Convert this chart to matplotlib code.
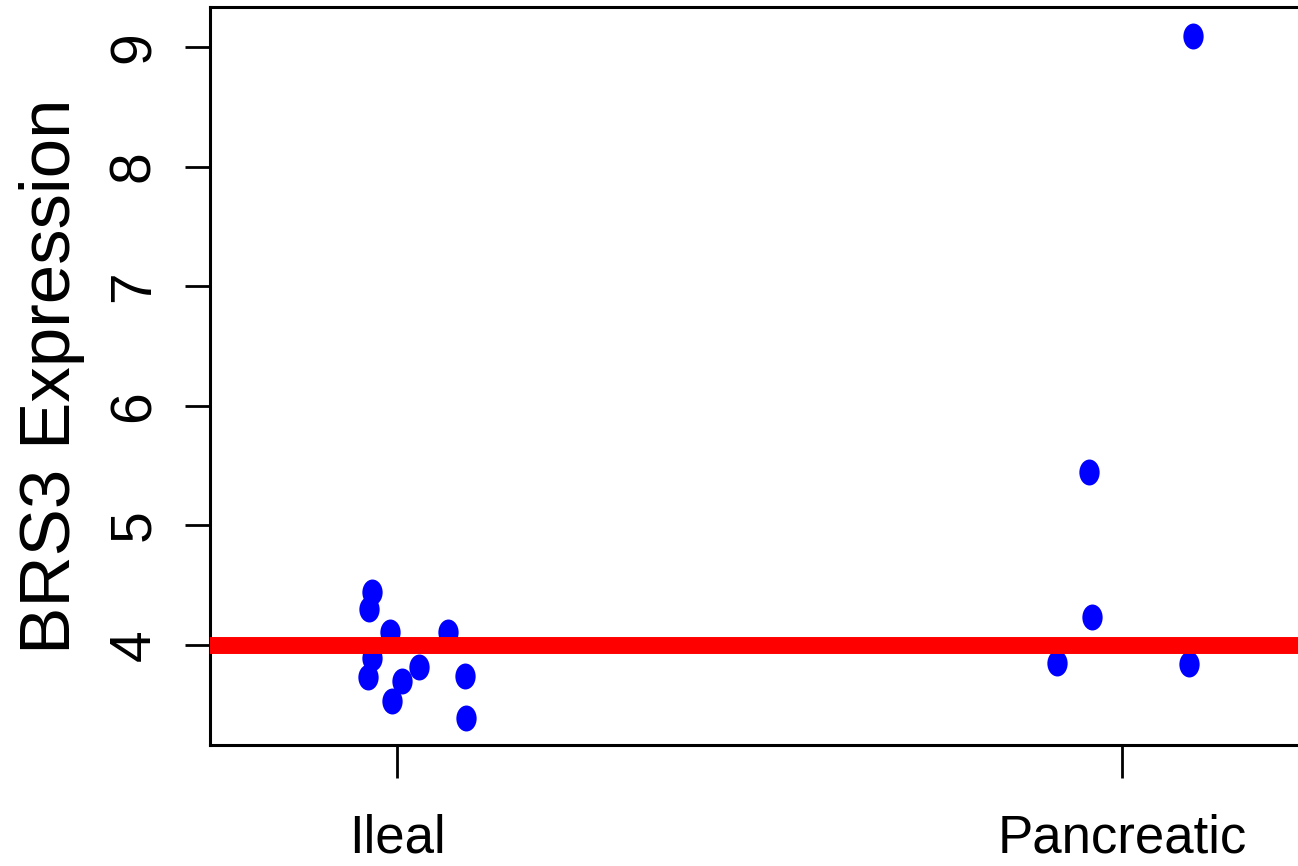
import numpy as np
import matplotlib.pyplot as plt
from matplotlib.path import Path

# groups and read-off values (stripchart with jitter)
groups = ["Ileal", "Pancreatic"]
ileal_vals = [4.44, 4.30, 4.11, 4.11, 3.89, 3.73, 3.82, 3.70, 3.53, 3.74, 3.39]
ileal_jit = [-0.034, -0.039, -0.010, 0.070, -0.034, -0.040, 0.030, 0.007, -0.007, 0.094, 0.095]
panc_vals = [9.09, 5.45, 4.23, 3.85, 3.84]
panc_jit = [0.098, -0.046, -0.041, -0.090, 0.092]
ref_level = 4
yticks = [4, 5, 6, 7, 8, 9]

plt.rcParams['font.family'] = ['Liberation Sans', 'DejaVu Sans']

W, H = 1298, 866
fig = plt.figure(figsize=(W / 100, H / 100), dpi=100)
# axes box: left edge 210px, bottom 745px, top 7px, right runs off the figure
ax = fig.add_axes([210 / W, (H - 745) / H, (1309 - 210) / W, (745 - 7) / H])

# slightly tall ellipse marker, like the stretched original
circ = Path.unit_circle()
ell = Path(circ.vertices * np.array([1.0, 1.28]), circ.codes)

ax.scatter(1 + np.array(ileal_jit), ileal_vals, marker=ell, s=18.7 ** 2,
           color='#0000ff', linewidths=0, zorder=2)
ax.scatter(2 + np.array(panc_jit), panc_vals, marker=ell, s=18.7 ** 2,
           color='#0000ff', linewidths=0, zorder=2)
ax.axhline(ref_level, color='#ff0000', lw=12.2, zorder=3)

ax.set_xlim(0.742, 2.258)
ax.set_ylim(3.164, 9.334)

ax.set_xticks([1, 2])
ax.set_xticklabels(groups, fontsize=38)
ax.set_yticks(yticks)
ax.set_yticklabels([str(t) for t in yticks], rotation=90, va='center',
                   fontsize=41)
ax.tick_params(axis='x', length=24, width=2.0, pad=25)
ax.tick_params(axis='y', length=18, width=2.0, pad=17)
for s in ax.spines.values():
    s.set_linewidth(2.2)

ax.set_ylabel("BRS3 Expression", fontsize=51, labelpad=16)

fig.savefig("out.png", dpi=100)
